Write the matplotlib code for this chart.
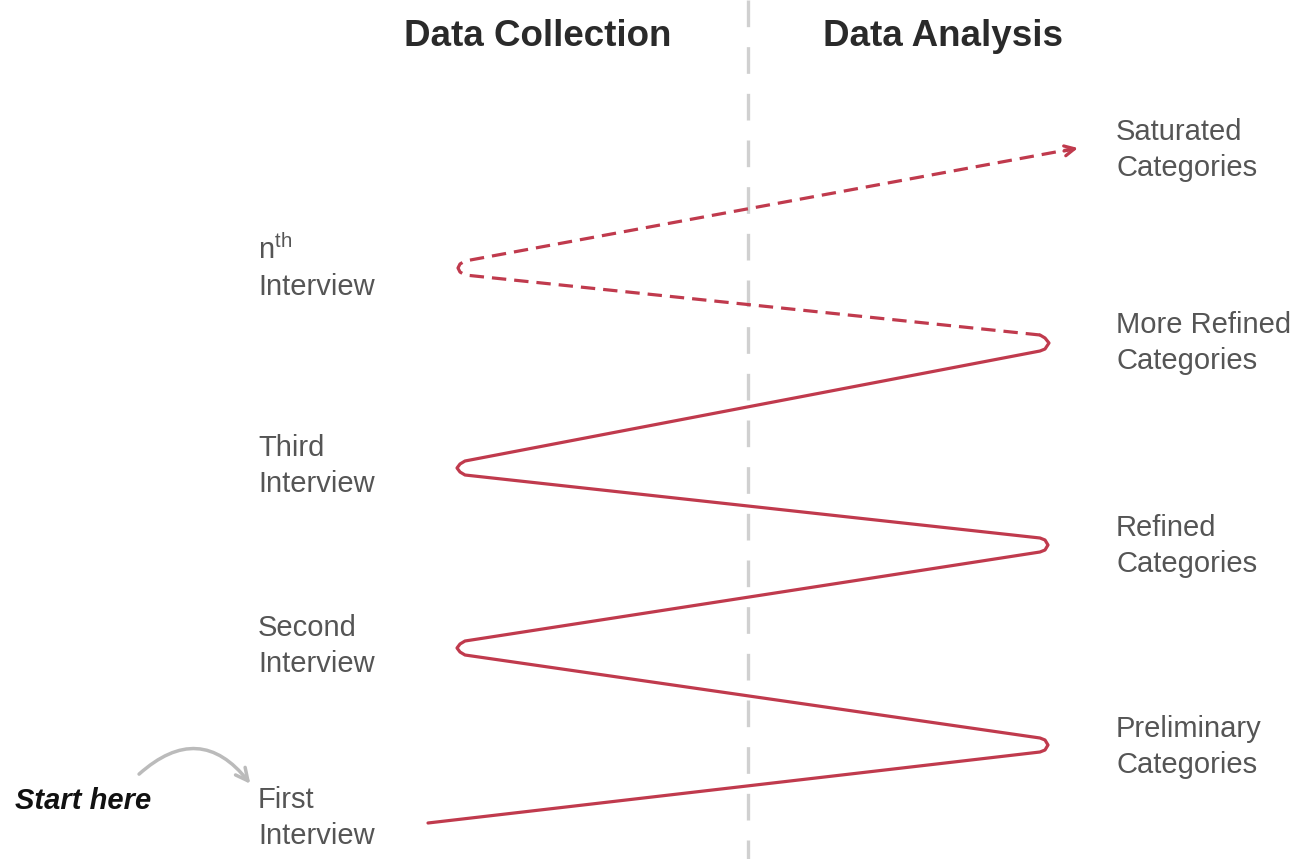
import matplotlib
matplotlib.use("Agg")
import matplotlib.pyplot as plt
from matplotlib.patches import FancyArrowPatch

plt.rcParams["mathtext.fontset"] = "custom"
plt.rcParams["mathtext.rm"] = "Liberation Sans"

# zigzag vertices (picture coords, y down), turns slightly rounded
solid_x = [428,
           1040, 1045, 1048, 1045, 1040,
           465, 460, 457, 460, 465,
           1040, 1045, 1048, 1045, 1040,
           465, 460, 457, 460, 465,
           1040, 1045, 1049, 1045, 1040]
solid_y = [823,
           752, 750, 745, 740, 738,
           655, 652, 648, 644, 641,
           552, 550, 545, 540, 538,
           475, 472, 468, 464, 461,
           351, 349, 343, 338, 335]
dash_x = [1040, 465, 460, 458, 460, 465, 1072]
dash_y = [335, 275, 272, 268, 264, 261, 149]
arrow_tip = (1078, 148)

left_labels = ["First\nInterview", "Second\nInterview", "Third\nInterview",
               "n$^{\\mathrm{th}}$\nInterview"]
left_y = [818, 646, 466, 268]
right_labels = ["Preliminary\nCategories", "Refined\nCategories", "More Refined\nCategories", "Saturated\nCategories"]
right_y = [747, 546, 343, 150]
headers = ["Data Collection", "Data Analysis"]
header_x = [538, 943]

red = "#c03a4d"
grey_txt = "#555555"

fig = plt.figure(figsize=(12.97, 8.59), dpi=100)
ax = fig.add_axes([0, 0, 1, 1])
ax.set_xlim(0, 1297)
ax.set_ylim(859, 0)
ax.axis("off")

# centre divider
ax.plot([748, 748], [0, 859], color="#d0d0d0", lw=2.4, dashes=(8, 6))

ax.plot(solid_x, solid_y, color=red, lw=2.3, solid_joinstyle="round", solid_capstyle="round")
ax.plot(dash_x, dash_y, color=red, lw=2.3, dashes=(4.5, 2.5), dash_joinstyle="round")
ax.annotate("", xy=arrow_tip, xytext=(arrow_tip[0] - 14, arrow_tip[1] + 3),
            arrowprops=dict(arrowstyle="->", color=red, lw=2.3, mutation_scale=18,
                            shrinkA=0, shrinkB=0))

font = "Liberation Sans"
for lab, y in zip(left_labels, left_y):
    ax.text(258, y, lab, fontsize=21, color=grey_txt, family=font, va="center", ha="left",
            linespacing=1.35)

for lab, y in zip(right_labels, right_y):
    ax.text(1116, y, lab, fontsize=21, color=grey_txt, family=font, va="center", ha="left",
            linespacing=1.35)

for h, x in zip(headers, header_x):
    ax.text(x, 37, h, fontsize=26.5, fontweight="bold", color="#2a2a2a", family=font,
            va="center", ha="center")

ax.text(15, 801, "Start here", fontsize=21, fontweight="bold", style="italic", color="#111111",
        family=font, va="center", ha="left")

arr = FancyArrowPatch((137, 776), (252, 786), connectionstyle="arc3,rad=-0.55",
                      arrowstyle="->", mutation_scale=22, color="#bbbbbb", lw=2.5)
ax.add_patch(arr)

fig.savefig("out.png", dpi=100)
